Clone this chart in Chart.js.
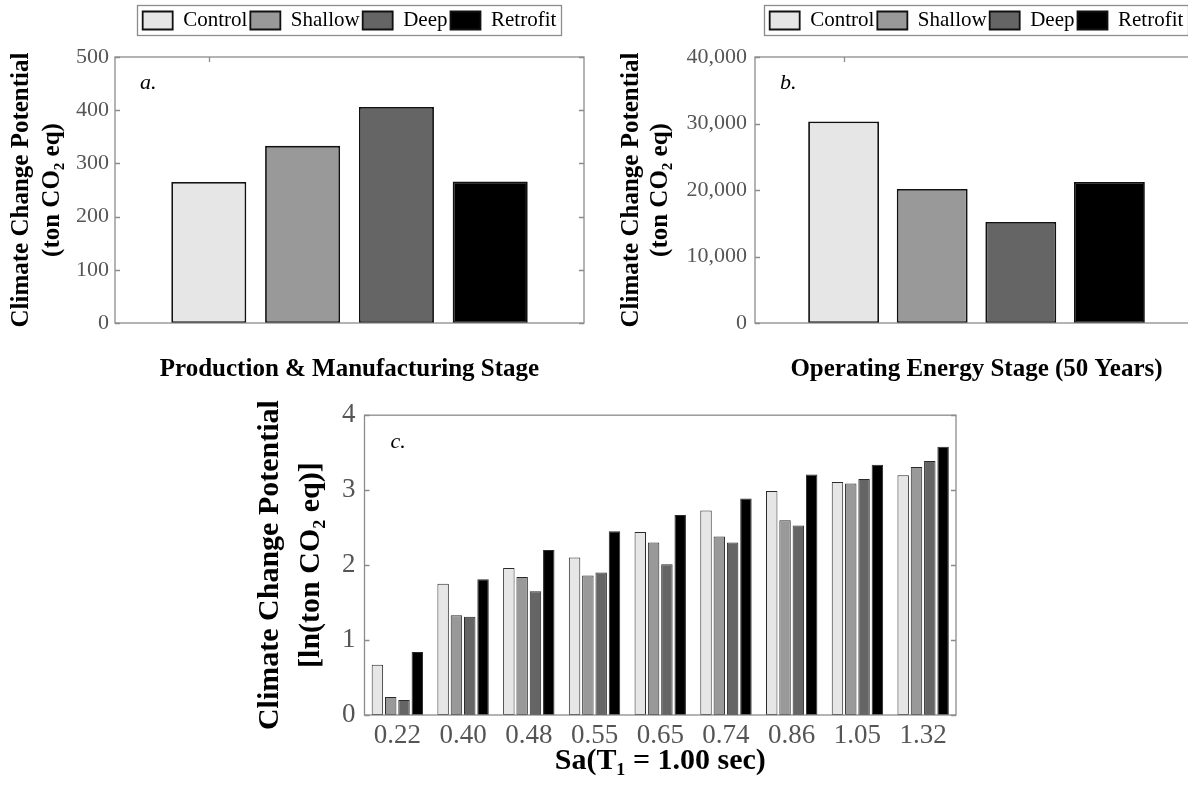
<!DOCTYPE html>
<html>
<head>
<meta charset="utf-8">
<script src="https://cdn.jsdelivr.net/npm/chart.js@4.4.1/dist/chart.umd.min.js"></script>
<style>
  html, body { margin: 0; padding: 0; background: #fff; width: 1188px; height: 795px; overflow: hidden; }
  .box { position: absolute; }
</style>
</head>
<body>
<div class="box" style="left:0;top:0"><canvas id="chartA" width="594" height="390"></canvas></div>
<div class="box" style="left:590px;top:0"><canvas id="chartB" width="630" height="390"></canvas></div>
<div class="box" style="left:250px;top:390px"><canvas id="chartC" width="720" height="405"></canvas></div>
<script>
// series names + fills (shared by all three panels)
const series = ["Control", "Shallow", "Deep", "Retrofit"];
const fills = ["#e6e6e6", "#999999", "#656565", "#000000"];

// a. production & manufacturing (ton CO2 eq)
const productionValues = [265, 333, 406, 266];
// b. operating energy, 50 years (ton CO2 eq)
const operatingValues = [30300, 20150, 15200, 21200];

// c. ln(ton CO2 eq) against Sa(T1 = 1.00 sec)
const saLabels = ["0.22", "0.40", "0.48", "0.55", "0.65", "0.74", "0.86", "1.05", "1.32"];
const controlC = [0.67, 1.75, 1.96, 2.10, 2.44, 2.73, 2.99, 3.11, 3.20];
const shallowC = [0.24, 1.33, 1.84, 1.86, 2.30, 2.38, 2.60, 3.09, 3.31];
const deepC = [0.20, 1.31, 1.65, 1.90, 2.01, 2.30, 2.53, 3.15, 3.39];
const retrofitC = [0.84, 1.81, 2.20, 2.45, 2.67, 2.89, 3.21, 3.34, 3.58];

const SERIF = "'Liberation Serif', 'Times New Roman', serif";
const TICK_COLOR = "#555";
const FRAME_COLOR = "#8c8c8c";

// draws the matlab style box, inward ticks, panel letter and the legend border
const framePlugin = {
  id: "frame",
  afterDatasetsDraw(chart, args, o) {
    const ctx = chart.ctx;
    const a = chart.chartArea;
    const y = chart.scales.y;
    ctx.save();
    ctx.strokeStyle = FRAME_COLOR;
    ctx.lineWidth = 1.3;
    ctx.strokeRect(a.left, a.top, a.right - a.left, a.bottom - a.top);
    ctx.beginPath();
    y.ticks.forEach((t) => {
      const py = Math.round(y.getPixelForValue(t.value)) + 0.5;
      ctx.moveTo(a.left, py);
      ctx.lineTo(a.left + 5, py);
      ctx.moveTo(a.right, py);
      ctx.lineTo(a.right - 5, py);
    });
    if (o.topTick != null) {
      const px = Math.round(chart.scales.x.getPixelForValue(o.topTick)) + 0.5;
      ctx.moveTo(px, a.top);
      ctx.lineTo(px, a.top + 5);
    }
    ctx.stroke();
    if (o.tag) {
      ctx.fillStyle = "#000";
      ctx.font = "italic " + o.tagSize + "px " + SERIF;
      ctx.textAlign = "left";
      ctx.textBaseline = "middle";
      ctx.fillText(o.tag, a.left + o.dx, a.top + o.dy);
    }
    ctx.restore();
  },
  afterDraw(chart) {
    const lg = chart.legend;
    if (!lg || !lg.options.display || !lg.legendHitBoxes.length) return;
    const hb = lg.legendHitBoxes;
    const left = Math.min(...hb.map((h) => h.left));
    const right = Math.max(...hb.map((h) => h.left + h.width));
    const top = hb[0].top;
    const ctx = chart.ctx;
    ctx.save();
    ctx.strokeStyle = FRAME_COLOR;
    ctx.lineWidth = 1.3;
    ctx.strokeRect(Math.round(left - 6) + 0.5, Math.round(top - 5) + 0.5, Math.round(right - left + 10), Math.round(hb[0].height + 9));
    ctx.restore();
  },
};

function stageChart(id, values, yMax, yStep, xTitle, opts) {
  return new Chart(document.getElementById(id), {
    type: "bar",
    data: {
      datasets: series.map((name, i) => ({
        label: name,
        data: [{ x: i + 1, y: values[i] }],
        backgroundColor: fills[i],
        borderColor: "#111",
        borderWidth: 1.8,
        borderSkipped: false,
        grouped: false,
        categoryPercentage: 0.8,
        barPercentage: 1,
      })),
    },
    options: {
      responsive: false,
      animation: false,
      events: [],
      layout: { padding: { top: 7, left: 0, right: opts.padRight, bottom: 0 } },
      scales: {
        x: {
          type: "linear",
          min: 0,
          max: 5,
          offset: false,
          ticks: { display: false, stepSize: 1 },
          grid: { display: false, drawTicks: false },
          border: { display: false },
          title: {
            display: true,
            text: xTitle,
            color: "#000",
            font: { family: SERIF, size: 25, weight: "bold" },
            padding: { top: 0, bottom: 5 },
          },
          afterFit: (s) => { s.height = 67; },
        },
        xTop: {
          type: "linear",
          position: "top",
          min: 0,
          max: 5,
          ticks: { display: false },
          grid: { display: false, drawTicks: false },
          border: { display: false },
          afterFit: (s) => { s.height = 16; },
        },
        y: {
          min: 0,
          max: yMax,
          ticks: {
            stepSize: yStep,
            padding: opts.tickPad,
            color: TICK_COLOR,
            font: { family: SERIF, size: 22 },
            callback: (v) => v.toLocaleString("en-US"),
          },
          grid: { display: false, drawTicks: false },
          border: { display: false },
          title: {
            display: true,
            text: ["Climate Change Potential", "(ton CO\u2082 eq)"],
            color: "#000",
            font: { family: SERIF, size: 25, weight: "bold", lineHeight: opts.titleLine },
            padding: { top: opts.titlePad, bottom: 0 },
          },
          afterFit: (s) => { s.width = opts.axisWidth; },
        },
      },
      plugins: {
        legend: {
          position: "top",
          align: "center",
          fullSize: false,
          labels: {
            boxWidth: 30,
            boxHeight: 18,
            padding: 3,
            color: "#000",
            font: { family: SERIF, size: 21 },
          },
        },
        tooltip: { enabled: false },
        frame: { tag: opts.tag, tagSize: 22, dx: 25, dy: 26, topTick: 1 },
      },
    },
    plugins: [framePlugin],
  });
}

stageChart("chartA", productionValues, 500, 100, "Production & Manufacturing Stage", {
  padRight: 10, axisWidth: 115, tickPad: 6, titleLine: "31px", titlePad: 6, tag: "a.",
});

stageChart("chartB", operatingValues, 40000, 10000, "Operating Energy Stage (50 Years)", {
  padRight: 22, axisWidth: 165, tickPad: 8, titleLine: "29px", titlePad: 27, tag: "b.",
});

const seriesC = [controlC, shallowC, deepC, retrofitC];

new Chart(document.getElementById("chartC"), {
  type: "bar",
  data: {
    labels: saLabels,
    datasets: series.map((name, i) => ({
      label: name,
      data: seriesC[i],
      backgroundColor: fills[i],
      borderColor: "#2a2a2a",
      borderWidth: 1,
      borderSkipped: false,
      categoryPercentage: 0.81,
      barPercentage: 0.86,
    })),
  },
  options: {
    responsive: false,
    animation: false,
    events: [],
    layout: { padding: { top: 18, left: 0, right: 14, bottom: 0 } },
    scales: {
      x: {
        ticks: { color: TICK_COLOR, padding: 5, maxRotation: 0, autoSkip: false, font: { family: SERIF, size: 27 } },
        grid: { display: false, drawTicks: false },
        border: { display: false },
        title: {
          display: true,
          text: "Sa(T\u2081 = 1.00 sec)",
          color: "#000",
          font: { family: SERIF, size: 30, weight: "bold" },
          padding: { top: 0, bottom: 16 },
        },
        afterFit: (s) => { s.height = 80; },
      },
      y: {
        min: 0,
        max: 4,
        ticks: { stepSize: 1, padding: 9, color: TICK_COLOR, font: { family: SERIF, size: 27 } },
        grid: { display: false, drawTicks: false },
        border: { display: false },
        title: {
          display: true,
          text: ["Climate Change Potential", "[ln(ton CO\u2082 eq)]"],
          color: "#000",
          font: { family: SERIF, size: 30, weight: "bold", lineHeight: "41px" },
          padding: { top: 0, bottom: 0 },
        },
        afterFit: (s) => { s.width = 114.5; },
      },
    },
    plugins: {
      legend: { display: false },
      tooltip: { enabled: false },
      frame: { tag: "c.", tagSize: 22, dx: 26, dy: 27 },
    },
  },
  plugins: [framePlugin],
});
</script>
</body>
</html>
